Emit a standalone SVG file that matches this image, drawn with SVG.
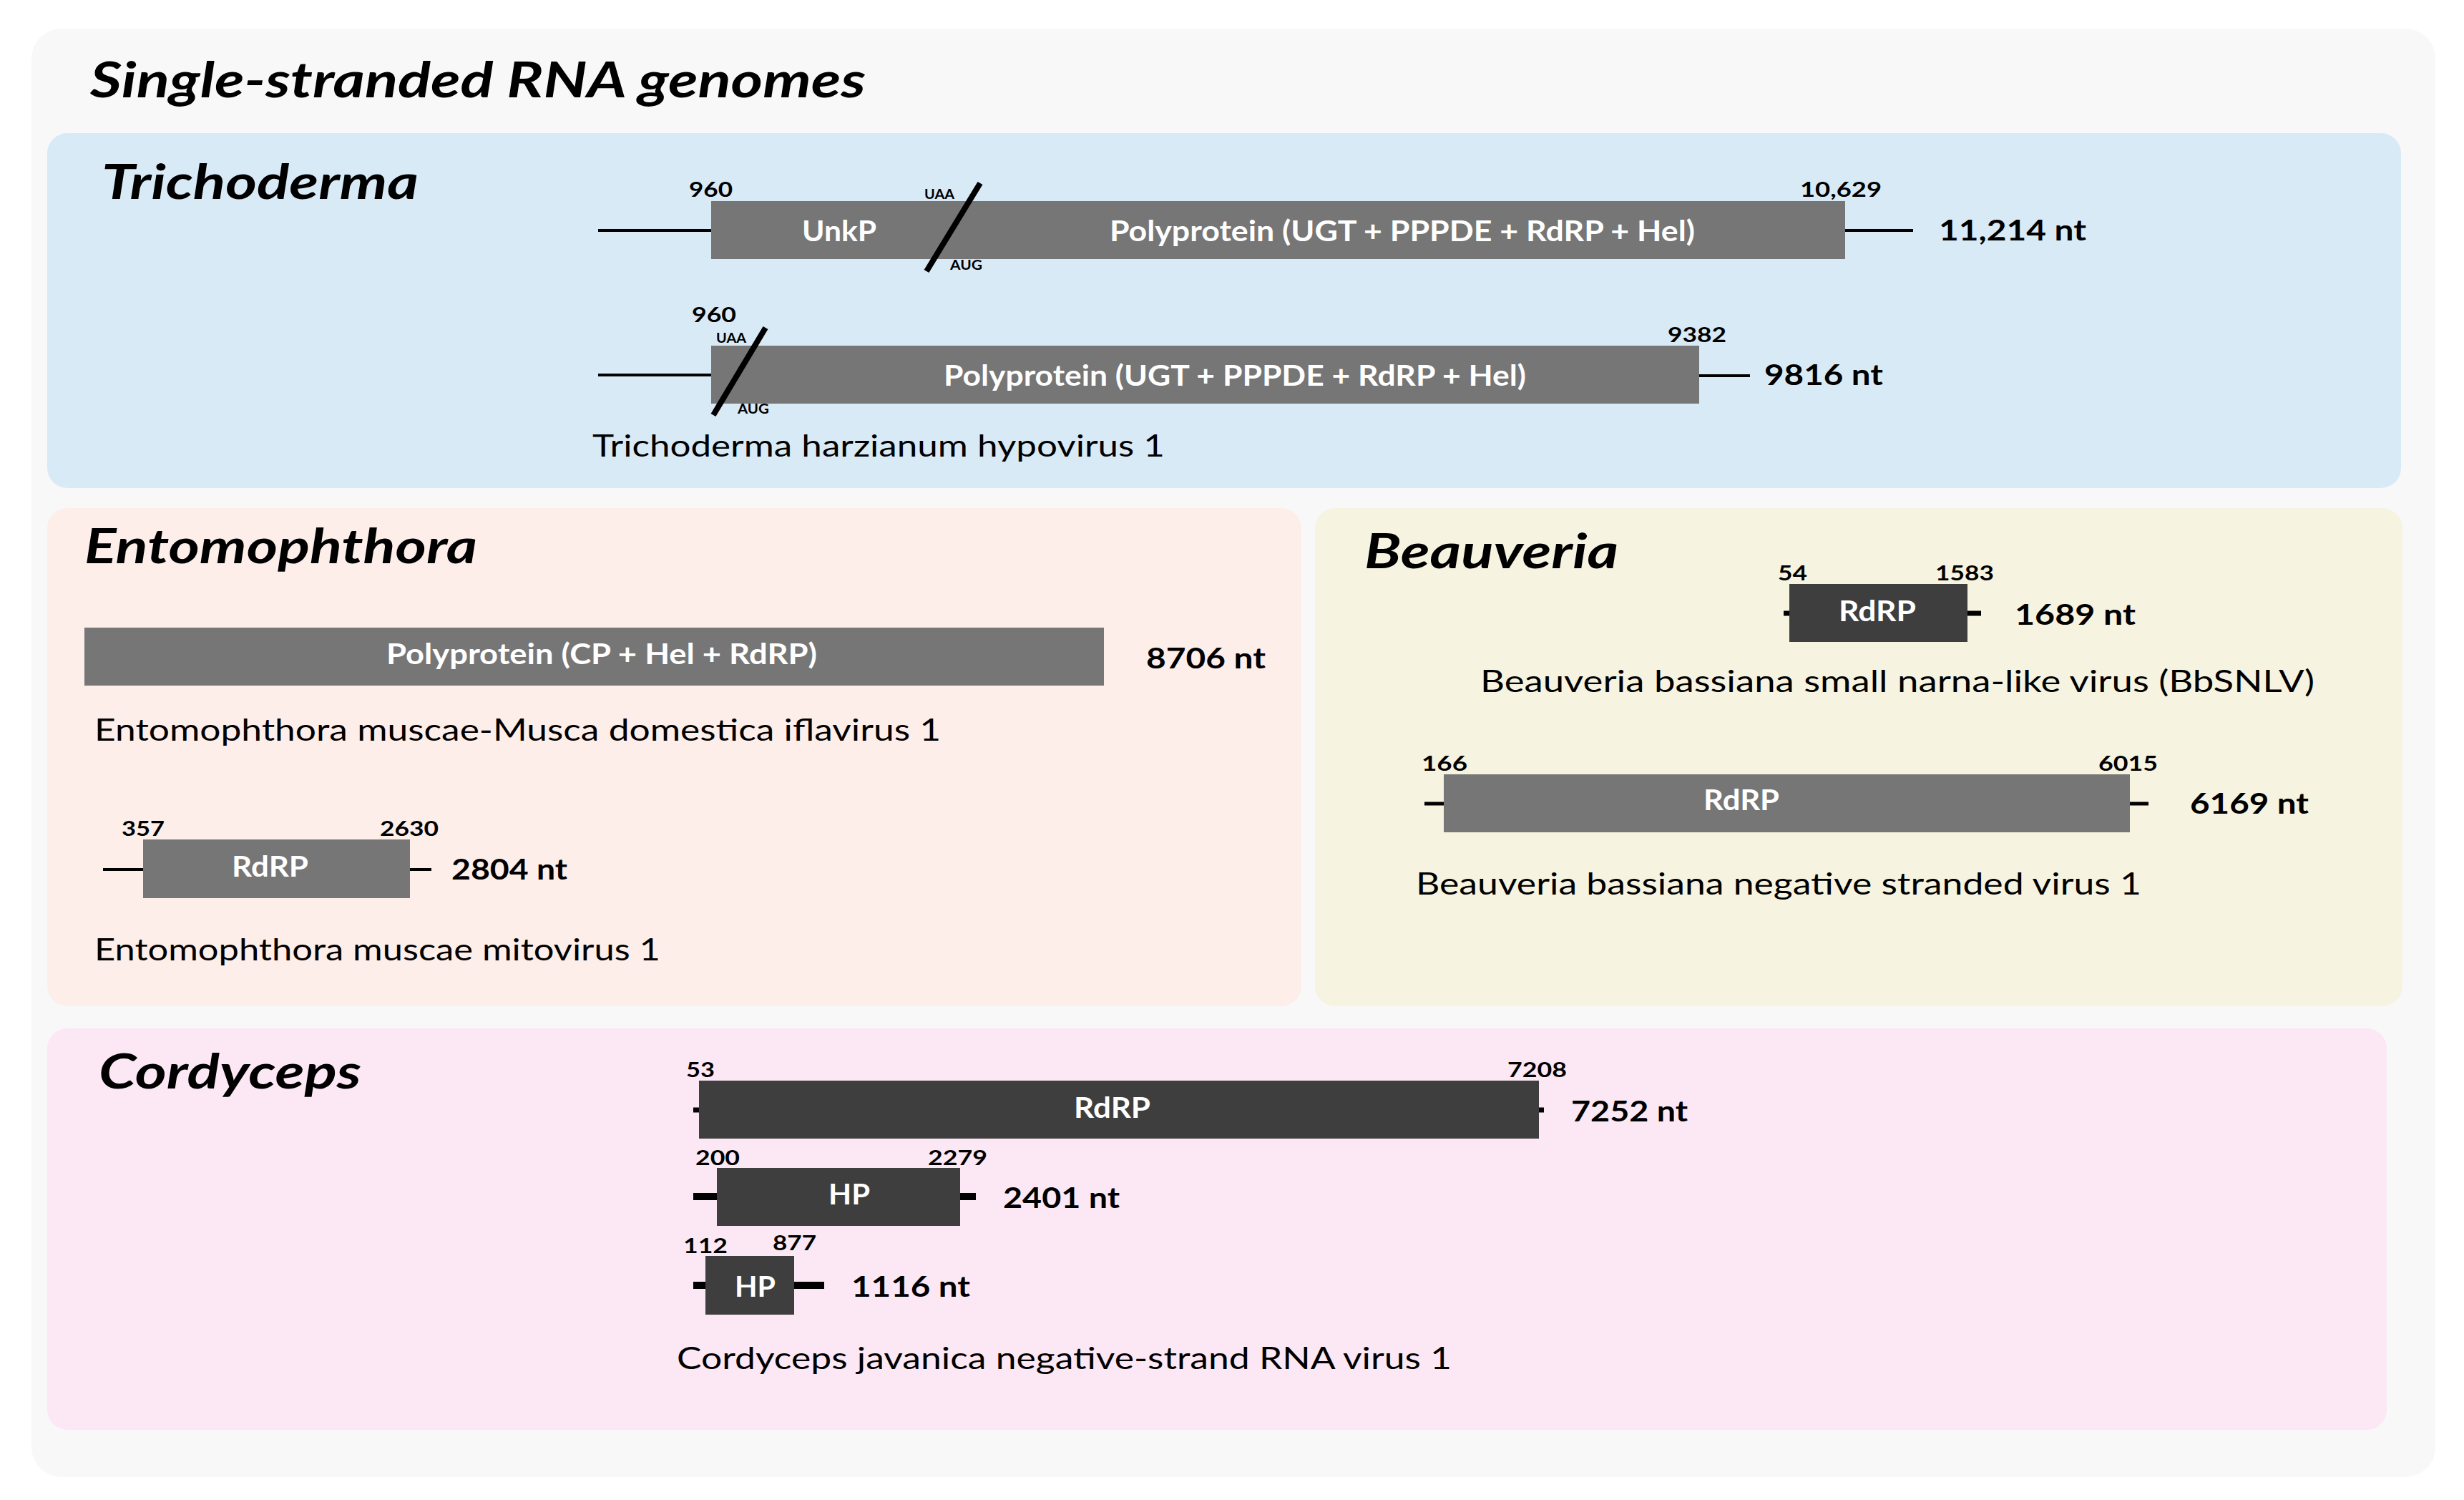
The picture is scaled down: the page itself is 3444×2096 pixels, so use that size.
<svg xmlns="http://www.w3.org/2000/svg" width="3444" height="2096" viewBox="0 0 3444 2096">
<style>
text{font-family:Lato,"Liberation Sans",sans-serif;}
.h1{font-size:68px;font-weight:bold;font-style:italic;fill:#000}
.h2{font-size:66px;font-weight:bold;font-style:italic;fill:#000}
.num{font-size:28px;font-weight:bold;fill:#000}
.nt{font-size:41px;font-weight:bold;fill:#000}
.lbl{font-size:40px;font-weight:bold;fill:#fff}
.cod{font-size:18px;font-weight:bold;fill:#000}
.sp{font-size:42px;fill:#000}
.gray{fill:#767676}
.dark{fill:#3e3e3e}
.utr{stroke:#000;stroke-width:4}
.tick{stroke:#000;stroke-width:7}
.tick5{stroke:#000;stroke-width:5}
.tick10{stroke:#000;stroke-width:10}
.slash{stroke:#000;stroke-width:8}
</style>
<rect width="3444" height="2096" fill="#ffffff"/>
<g id="background">
<rect x="44" y="40" width="3360" height="2024" rx="42" fill="#f8f8f8"/>
<text class="h1" x="126" y="136" textLength="1084" lengthAdjust="spacingAndGlyphs">Single-stranded RNA genomes</text>
</g>

<g id="panel-trichoderma">
<rect x="66" y="186" width="3290" height="496" rx="28" fill="#d9eaf7"/>
<text class="h2" x="142" y="278" textLength="443" lengthAdjust="spacingAndGlyphs">Trichoderma</text>
</g>
<g id="genome-thv1-a">
<line class="utr" x1="836" y1="322" x2="994" y2="322"/>
<rect class="gray" x="994" y="281" width="1585" height="81"/>
<line class="utr" x1="2579" y1="322" x2="2674" y2="322"/>
<text class="num" x="963" y="275" textLength="61" lengthAdjust="spacingAndGlyphs">960</text>
<text class="lbl" x="1121" y="337" textLength="104" lengthAdjust="spacingAndGlyphs">UnkP</text>
<line class="slash" x1="1370" y1="256" x2="1295" y2="379"/>
<text class="cod" x="1292" y="278" textLength="42" lengthAdjust="spacingAndGlyphs">UAA</text>
<text class="cod" x="1328" y="377" textLength="45" lengthAdjust="spacingAndGlyphs">AUG</text>
<text class="lbl" x="1551" y="337" textLength="818" lengthAdjust="spacingAndGlyphs">Polyprotein (UGT + PPPDE + RdRP + Hel)</text>
<text class="num" x="2516" y="275" textLength="114" lengthAdjust="spacingAndGlyphs">10,629</text>
<text class="nt" x="2710" y="336" textLength="206" lengthAdjust="spacingAndGlyphs">11,214 nt</text>
</g>
<g id="genome-thv1-b">
<line class="utr" x1="836" y1="524" x2="994" y2="524"/>
<rect class="gray" x="994" y="483" width="1381" height="81"/>
<line class="utr" x1="2375" y1="525" x2="2446" y2="525"/>
<text class="num" x="967" y="450" textLength="62" lengthAdjust="spacingAndGlyphs">960</text>
<text class="cod" x="1001" y="479" textLength="42" lengthAdjust="spacingAndGlyphs">UAA</text>
<line class="slash" x1="1070" y1="458" x2="997" y2="580"/>
<text class="cod" x="1031" y="578" textLength="44" lengthAdjust="spacingAndGlyphs">AUG</text>
<text class="lbl" x="1319" y="539" textLength="814" lengthAdjust="spacingAndGlyphs">Polyprotein (UGT + PPPDE + RdRP + Hel)</text>
<text class="num" x="2331" y="478" textLength="82" lengthAdjust="spacingAndGlyphs">9382</text>
<text class="nt" x="2466" y="538" textLength="166" lengthAdjust="spacingAndGlyphs">9816 nt</text>
<text class="sp" x="828" y="638" textLength="800" lengthAdjust="spacingAndGlyphs">Trichoderma harzianum hypovirus 1</text>
</g>

<g id="panel-entomophthora">
<rect x="66" y="710" width="1753" height="696" rx="28" fill="#fdeeea"/>
<text class="h2" x="118" y="787" textLength="549" lengthAdjust="spacingAndGlyphs">Entomophthora</text>
</g>
<g id="genome-emmdiv1">
<rect class="gray" x="118" y="877" width="1425" height="81"/>
<text class="lbl" x="540" y="928" textLength="602" lengthAdjust="spacingAndGlyphs">Polyprotein (CP + Hel + RdRP)</text>
<text class="nt" x="1602" y="934" textLength="167" lengthAdjust="spacingAndGlyphs">8706 nt</text>
<text class="sp" x="132" y="1035" textLength="1183" lengthAdjust="spacingAndGlyphs">Entomophthora muscae-Musca domestica iflavirus 1</text>
</g>
<g id="genome-emmv1">
<line class="utr" x1="144" y1="1215" x2="200" y2="1215"/>
<rect class="gray" x="200" y="1173" width="373" height="82"/>
<line class="utr" x1="573" y1="1215" x2="603" y2="1215"/>
<text class="num" x="170" y="1168" textLength="60" lengthAdjust="spacingAndGlyphs">357</text>
<text class="num" x="531" y="1168" textLength="82" lengthAdjust="spacingAndGlyphs">2630</text>
<text class="lbl" x="324" y="1225" textLength="107" lengthAdjust="spacingAndGlyphs">RdRP</text>
<text class="nt" x="631" y="1229" textLength="162" lengthAdjust="spacingAndGlyphs">2804 nt</text>
<text class="sp" x="132" y="1342" textLength="791" lengthAdjust="spacingAndGlyphs">Entomophthora muscae mitovirus 1</text>
</g>

<g id="panel-beauveria">
<rect x="1838" y="710" width="1520" height="696" rx="28" fill="#f6f3e1"/>
<text class="h2" x="1907" y="794" textLength="355" lengthAdjust="spacingAndGlyphs">Beauveria</text>
</g>
<g id="genome-bbsnlv">
<line class="tick" x1="2493" y1="857" x2="2501" y2="857"/>
<rect class="dark" x="2501" y="816" width="249" height="81"/>
<line class="tick" x1="2750" y1="857" x2="2769" y2="857"/>
<text class="num" x="2485" y="811" textLength="41" lengthAdjust="spacingAndGlyphs">54</text>
<text class="num" x="2705" y="811" textLength="82" lengthAdjust="spacingAndGlyphs">1583</text>
<text class="lbl" x="2570" y="868" textLength="108" lengthAdjust="spacingAndGlyphs">RdRP</text>
<text class="nt" x="2816" y="873" textLength="169" lengthAdjust="spacingAndGlyphs">1689 nt</text>
<text class="sp" x="2069" y="967" textLength="1166" lengthAdjust="spacingAndGlyphs">Beauveria bassiana small narna-like virus (BbSNLV)</text>
</g>
<g id="genome-bbnsv1">
<line class="tick5" x1="1991" y1="1123" x2="2018" y2="1123"/>
<rect class="gray" x="2018" y="1082" width="959" height="81"/>
<line class="tick5" x1="2977" y1="1123" x2="3003" y2="1123"/>
<text class="num" x="1987" y="1077" textLength="64" lengthAdjust="spacingAndGlyphs">166</text>
<text class="num" x="2933" y="1077" textLength="83" lengthAdjust="spacingAndGlyphs">6015</text>
<text class="lbl" x="2381" y="1132" textLength="106" lengthAdjust="spacingAndGlyphs">RdRP</text>
<text class="nt" x="3061" y="1137" textLength="166" lengthAdjust="spacingAndGlyphs">6169 nt</text>
<text class="sp" x="1979" y="1250" textLength="1014" lengthAdjust="spacingAndGlyphs">Beauveria bassiana negative stranded virus 1</text>
</g>

<g id="panel-cordyceps">
<rect x="66" y="1437" width="3270" height="561" rx="28" fill="#fbe8f4"/>
<text class="h2" x="138" y="1521" textLength="367" lengthAdjust="spacingAndGlyphs">Cordyceps</text>
</g>
<g id="genome-cjnsrv1-l">
<line class="tick" x1="969" y1="1551" x2="977" y2="1551"/>
<rect class="dark" x="977" y="1510" width="1174" height="81"/>
<line class="tick" x1="2151" y1="1551" x2="2158" y2="1551"/>
<text class="num" x="959" y="1505" textLength="40" lengthAdjust="spacingAndGlyphs">53</text>
<text class="num" x="2107" y="1505" textLength="83" lengthAdjust="spacingAndGlyphs">7208</text>
<text class="lbl" x="1501" y="1562" textLength="107" lengthAdjust="spacingAndGlyphs">RdRP</text>
<text class="nt" x="2196" y="1567" textLength="163" lengthAdjust="spacingAndGlyphs">7252 nt</text>
</g>
<g id="genome-cjnsrv1-m">
<line class="tick10" x1="969" y1="1672" x2="1002" y2="1672"/>
<rect class="dark" x="1002" y="1632" width="340" height="81"/>
<line class="tick10" x1="1342" y1="1672" x2="1364" y2="1672"/>
<text class="num" x="972" y="1628" textLength="62" lengthAdjust="spacingAndGlyphs">200</text>
<text class="num" x="1297" y="1628" textLength="83" lengthAdjust="spacingAndGlyphs">2279</text>
<text class="lbl" x="1158" y="1683" textLength="58" lengthAdjust="spacingAndGlyphs">HP</text>
<text class="nt" x="1402" y="1688" textLength="163" lengthAdjust="spacingAndGlyphs">2401 nt</text>
</g>
<g id="genome-cjnsrv1-s">
<line class="tick10" x1="969" y1="1796" x2="986" y2="1796"/>
<rect class="dark" x="986" y="1755" width="124" height="82"/>
<line class="tick10" x1="1110" y1="1796" x2="1152" y2="1796"/>
<text class="num" x="955" y="1751" textLength="62" lengthAdjust="spacingAndGlyphs">112</text>
<text class="num" x="1080" y="1747" textLength="61" lengthAdjust="spacingAndGlyphs">877</text>
<text class="lbl" x="1027" y="1812" textLength="57" lengthAdjust="spacingAndGlyphs">HP</text>
<text class="nt" x="1190" y="1812" textLength="166" lengthAdjust="spacingAndGlyphs">1116 nt</text>
<text class="sp" x="946" y="1913" textLength="1083" lengthAdjust="spacingAndGlyphs">Cordyceps javanica negative-strand RNA virus 1</text>
</g>
<g id="connectors"/>
</svg>
